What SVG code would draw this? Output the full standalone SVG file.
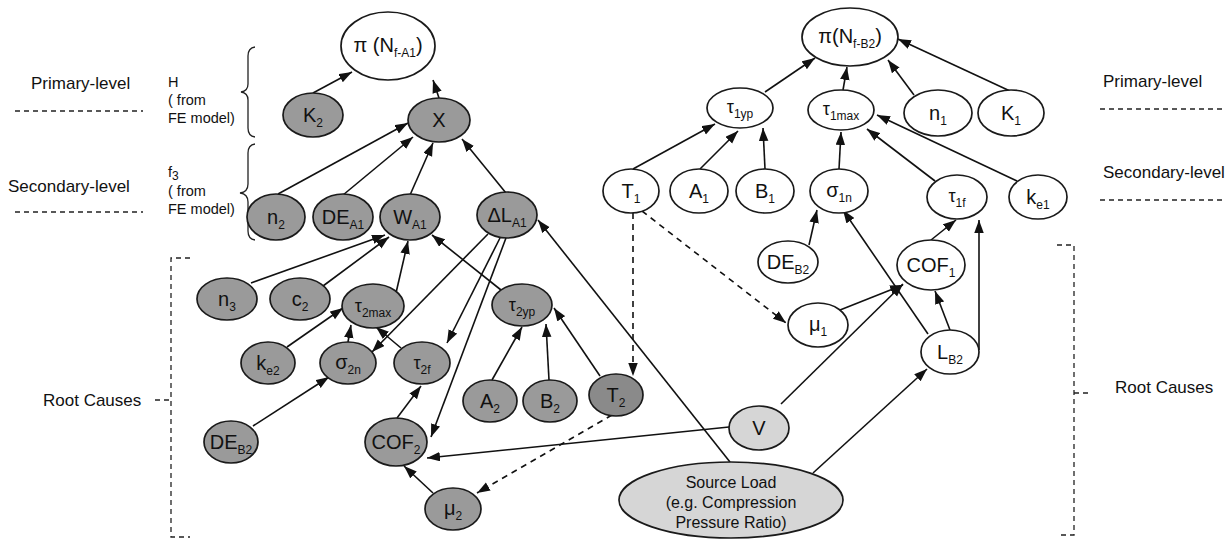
<svg xmlns="http://www.w3.org/2000/svg" width="1229" height="541" viewBox="0 0 1229 541">
<defs>
<marker id="a" markerUnits="userSpaceOnUse" markerWidth="14" markerHeight="10" refX="13" refY="4.75" orient="auto">
<path d="M0,0 L13,4.75 L0,9.5 z" fill="#111"/>
</marker>
<style>
.n ellipse{stroke:#1a1a1a;stroke-width:1.7}
.d ellipse{fill:#9a9a9a}
.dd ellipse{fill:#8a8a8a}
.w ellipse{fill:#fff}
.l ellipse{fill:#d6d6d6}
text{font-family:"Liberation Sans",Arial,sans-serif;fill:#111}
.t{font-size:20px;text-anchor:middle}
.tt{font-size:18px;text-anchor:middle}
.s{font-size:12px}
.e{stroke:#111;stroke-width:1.6;fill:none;marker-end:url(#a)}
.ds{stroke-dasharray:6 5}
.lab{font-size:17px}
.sm{font-size:14.5px}
.br{stroke:#222;stroke-width:1.3;fill:none}
.bd{stroke:#222;stroke-width:1.3;fill:none;stroke-dasharray:5 4}
</style>
</defs>

<g id="side-labels">
<text class="lab" x="31" y="89">Primary-level</text>
<line class="bd" x1="15" y1="111" x2="143" y2="111"/>
<text class="lab" x="8" y="192">Secondary-level</text>
<line class="bd" x1="15" y1="212" x2="143" y2="212"/>
<text class="sm" x="168" y="87">H</text>
<text class="sm" x="168" y="105">( from</text>
<text class="sm" x="168" y="123">FE model)</text>
<text class="sm" x="168" y="177">f<tspan class="s" font-size="9" dy="3">3</tspan></text>
<text class="sm" x="168" y="196">( from</text>
<text class="sm" x="168" y="214">FE model)</text>
<path class="br" d="M255,47 Q248,48 248,56 V84 Q248,91 241,92 Q248,93 248,100 V128 Q248,136 255,137"/>
<path class="br" d="M255,144 Q248,145 248,153 V184 Q248,192 240,193 Q248,194 248,202 V231 Q248,239 255,240"/>
<text class="lab" x="43" y="406">Root Causes</text>
<path class="bd" d="M190,258 H171 V537 H190"/>
<path class="bd" d="M155,400 H171"/>
<text class="lab" x="1103" y="87">Primary-level</text>
<line class="bd" x1="1100" y1="109" x2="1225" y2="109"/>
<text class="lab" x="1103" y="178">Secondary-level</text>
<line class="bd" x1="1100" y1="200" x2="1225" y2="200"/>
<text class="lab" x="1115" y="393">Root Causes</text>
<path class="bd" d="M1057,245 H1074 V535 H1058"/>
<path class="bd" d="M1074,393 H1088"/>
</g>

<g id="connectors">
<line class="e" x1="313" y1="93" x2="352" y2="72"/>
<line class="e" x1="439" y1="98" x2="433" y2="80"/>
<line class="e" x1="278" y1="194" x2="408" y2="123"/>
<line class="e" x1="343" y1="195" x2="413" y2="137"/>
<line class="e" x1="410" y1="195" x2="433" y2="143"/>
<line class="e" x1="506" y1="193" x2="462" y2="139"/>
<line class="e" x1="251" y1="283" x2="385" y2="235"/>
<line class="e" x1="323" y1="286" x2="389" y2="237"/>
<line class="e" x1="396" y1="293" x2="408" y2="241"/>
<line class="e" x1="501" y1="290" x2="432" y2="235"/>
<line class="e" x1="488" y1="234" x2="372" y2="352"/>
<line class="e" x1="500" y1="238" x2="447" y2="343"/>
<line class="e" x1="506" y1="238" x2="431" y2="437"/>
<line class="e" x1="348" y1="342" x2="351" y2="325"/>
<line class="e" x1="287" y1="347" x2="343" y2="308"/>
<line class="e" x1="401" y1="348" x2="376" y2="327"/>
<line class="e" x1="253" y1="426" x2="329" y2="377"/>
<line class="e" x1="397" y1="418" x2="421" y2="386"/>
<line class="e" x1="433" y1="493" x2="404" y2="466"/>
<line class="e" x1="492" y1="380" x2="522" y2="327"/>
<line class="e" x1="549" y1="380" x2="546" y2="324"/>
<line class="e" x1="600" y1="376" x2="554" y2="308"/>
<line class="e" x1="729" y1="427" x2="427" y2="458"/>
<line class="e ds" x1="633" y1="213" x2="633" y2="376"/>
<line class="e ds" x1="642" y1="211" x2="786" y2="323"/>
<line class="e ds" x1="612" y1="415" x2="477" y2="493"/>
<line class="e" x1="730" y1="462" x2="538" y2="220"/>
<line class="e" x1="765" y1="92" x2="815" y2="58"/>
<line class="e" x1="843" y1="90" x2="847" y2="67"/>
<line class="e" x1="914" y1="95" x2="888" y2="60"/>
<line class="e" x1="1010" y1="91" x2="898" y2="39"/>
<line class="e" x1="633" y1="169" x2="715" y2="124"/>
<line class="e" x1="700" y1="169" x2="738" y2="131"/>
<line class="e" x1="765" y1="169" x2="763" y2="128"/>
<line class="e" x1="839" y1="169" x2="841" y2="132"/>
<line class="e" x1="935" y1="181" x2="867" y2="129"/>
<line class="e" x1="1017" y1="181" x2="877" y2="115"/>
<line class="e" x1="809" y1="245" x2="817" y2="210"/>
<line class="e" x1="928" y1="334" x2="843" y2="210"/>
<line class="e" x1="931" y1="240" x2="956" y2="220"/>
<line class="e" x1="979" y1="350" x2="979" y2="220"/>
<line class="e" x1="950" y1="330" x2="935" y2="291"/>
<line class="e" x1="840" y1="310" x2="903" y2="285"/>
<line class="e" x1="781" y1="404" x2="903" y2="284"/>
<line class="e" x1="813" y1="473" x2="927" y2="369"/>
</g>

<g id="n-piA1" class="n w"><ellipse cx="388" cy="46" rx="47" ry="34"/><text class="t" x="388" y="52">π (N<tspan class="s" dy="5">f-A1</tspan><tspan dy="-5">)</tspan></text></g>
<g id="n-K2" class="n d"><ellipse cx="313" cy="115" rx="30" ry="22"/><text class="t" x="313" y="122">K<tspan class="s" dy="5">2</tspan></text></g>
<g id="n-X" class="n d"><ellipse cx="439" cy="120" rx="31" ry="22"/><text class="t" x="439" y="127">X</text></g>
<g id="n-n2" class="n d"><ellipse cx="276" cy="217" rx="29" ry="23"/><text class="t" x="276" y="224">n<tspan class="s" dy="5">2</tspan></text></g>
<g id="n-DEA1" class="n d"><ellipse cx="343" cy="217" rx="30" ry="23"/><text class="t" x="343" y="224">DE<tspan class="s" dy="5">A1</tspan></text></g>
<g id="n-WA1" class="n d"><ellipse cx="410" cy="217" rx="30" ry="23"/><text class="t" x="410" y="224">W<tspan class="s" dy="5">A1</tspan></text></g>
<g id="n-dLA1" class="n d"><ellipse cx="507" cy="215" rx="30" ry="23"/><text class="t" x="507" y="222">ΔL<tspan class="s" dy="5">A1</tspan></text></g>
<g id="n-n3" class="n d"><ellipse cx="227" cy="299" rx="30" ry="21"/><text class="t" x="227" y="306">n<tspan class="s" dy="5">3</tspan></text></g>
<g id="n-c2" class="n d"><ellipse cx="300" cy="299" rx="30" ry="21"/><text class="t" x="300" y="306">c<tspan class="s" dy="5">2</tspan></text></g>
<g id="n-t2max" class="n d"><ellipse cx="373" cy="306" rx="31" ry="22"/><text class="tt" x="373" y="312">τ<tspan class="s" dy="5">2max</tspan></text></g>
<g id="n-ke2" class="n d"><ellipse cx="268" cy="363" rx="27" ry="21"/><text class="t" x="268" y="370">k<tspan class="s" dy="5">e2</tspan></text></g>
<g id="n-s2n" class="n d"><ellipse cx="348" cy="363" rx="28" ry="21"/><text class="t" x="348" y="369">σ<tspan class="s" dy="5">2n</tspan></text></g>
<g id="n-t2f" class="n d"><ellipse cx="422" cy="363" rx="28" ry="21"/><text class="tt" x="422" y="369">τ<tspan class="s" dy="5">2f</tspan></text></g>
<g id="n-t2yp" class="n d"><ellipse cx="522" cy="305" rx="30" ry="21"/><text class="tt" x="522" y="311">τ<tspan class="s" dy="5">2yp</tspan></text></g>
<g id="n-A2" class="n d"><ellipse cx="490" cy="401" rx="27" ry="21"/><text class="t" x="490" y="408">A<tspan class="s" dy="5">2</tspan></text></g>
<g id="n-B2" class="n d"><ellipse cx="550" cy="401" rx="27" ry="21"/><text class="t" x="550" y="408">B<tspan class="s" dy="5">2</tspan></text></g>
<g id="n-T2" class="n dd"><ellipse cx="616" cy="395" rx="27" ry="21"/><text class="t" x="616" y="402">T<tspan class="s" dy="5">2</tspan></text></g>
<g id="n-DEB2-left" class="n d"><ellipse cx="231" cy="442" rx="27" ry="21"/><text class="t" x="231" y="449">DE<tspan class="s" dy="5">B2</tspan></text></g>
<g id="n-COF2" class="n d"><ellipse cx="396" cy="442" rx="31" ry="24"/><text class="t" x="396" y="449">COF<tspan class="s" dy="5">2</tspan></text></g>
<g id="n-mu2" class="n d"><ellipse cx="453" cy="509" rx="28" ry="21"/><text class="t" x="453" y="515">μ<tspan class="s" dy="5">2</tspan></text></g>

<g id="n-piB2" class="n w"><ellipse cx="850" cy="37" rx="48" ry="29"/><text class="t" x="850" y="43">π(N<tspan class="s" dy="5">f-B2</tspan><tspan dy="-5">)</tspan></text></g>
<g id="n-t1yp" class="n w"><ellipse cx="740" cy="108" rx="33" ry="20"/><text class="tt" x="740" y="113">τ<tspan class="s" dy="5">1yp</tspan></text></g>
<g id="n-t1max" class="n w"><ellipse cx="841" cy="110" rx="33" ry="20"/><text class="tt" x="841" y="115">τ<tspan class="s" dy="5">1max</tspan></text></g>
<g id="n-n1" class="n w"><ellipse cx="938" cy="113" rx="34" ry="23"/><text class="t" x="938" y="120">n<tspan class="s" dy="5">1</tspan></text></g>
<g id="n-K1" class="n w"><ellipse cx="1011" cy="113" rx="33" ry="23"/><text class="t" x="1011" y="120">K<tspan class="s" dy="5">1</tspan></text></g>
<g id="n-T1" class="n w"><ellipse cx="631" cy="191" rx="28" ry="22"/><text class="t" x="631" y="198">T<tspan class="s" dy="5">1</tspan></text></g>
<g id="n-A1" class="n w"><ellipse cx="699" cy="191" rx="29" ry="22"/><text class="t" x="699" y="198">A<tspan class="s" dy="5">1</tspan></text></g>
<g id="n-B1" class="n w"><ellipse cx="765" cy="191" rx="29" ry="22"/><text class="t" x="765" y="198">B<tspan class="s" dy="5">1</tspan></text></g>
<g id="n-s1n" class="n w"><ellipse cx="839" cy="191" rx="29" ry="22"/><text class="t" x="839" y="197">σ<tspan class="s" dy="5">1n</tspan></text></g>
<g id="n-t1f" class="n w"><ellipse cx="957" cy="197" rx="30" ry="22"/><text class="tt" x="957" y="202">τ<tspan class="s" dy="5">1f</tspan></text></g>
<g id="n-ke1" class="n w"><ellipse cx="1038" cy="197" rx="29" ry="22"/><text class="t" x="1038" y="204">k<tspan class="s" dy="5">e1</tspan></text></g>
<g id="n-DEB2-right" class="n w"><ellipse cx="788" cy="262" rx="30" ry="21"/><text class="t" x="788" y="269">DE<tspan class="s" dy="5">B2</tspan></text></g>
<g id="n-COF1" class="n w"><ellipse cx="931" cy="265" rx="34" ry="25"/><text class="t" x="931" y="272">COF<tspan class="s" dy="5">1</tspan></text></g>
<g id="n-mu1" class="n w"><ellipse cx="818" cy="325" rx="30" ry="22"/><text class="t" x="818" y="331">μ<tspan class="s" dy="5">1</tspan></text></g>
<g id="n-LB2" class="n w"><ellipse cx="950" cy="352" rx="29" ry="22"/><text class="t" x="950" y="359">L<tspan class="s" dy="5">B2</tspan></text></g>
<g id="n-V" class="n l"><ellipse cx="759" cy="428" rx="30" ry="22"/><text class="t" x="759" y="435">V</text></g>
<g id="n-source" class="n l"><ellipse cx="731" cy="500" rx="112" ry="38"/>
<text x="731" y="488" font-size="16" text-anchor="middle">Source Load</text>
<text x="731" y="508" font-size="16" text-anchor="middle">(e.g. Compression</text>
<text x="731" y="528" font-size="16" text-anchor="middle">Pressure Ratio)</text></g>
</svg>
